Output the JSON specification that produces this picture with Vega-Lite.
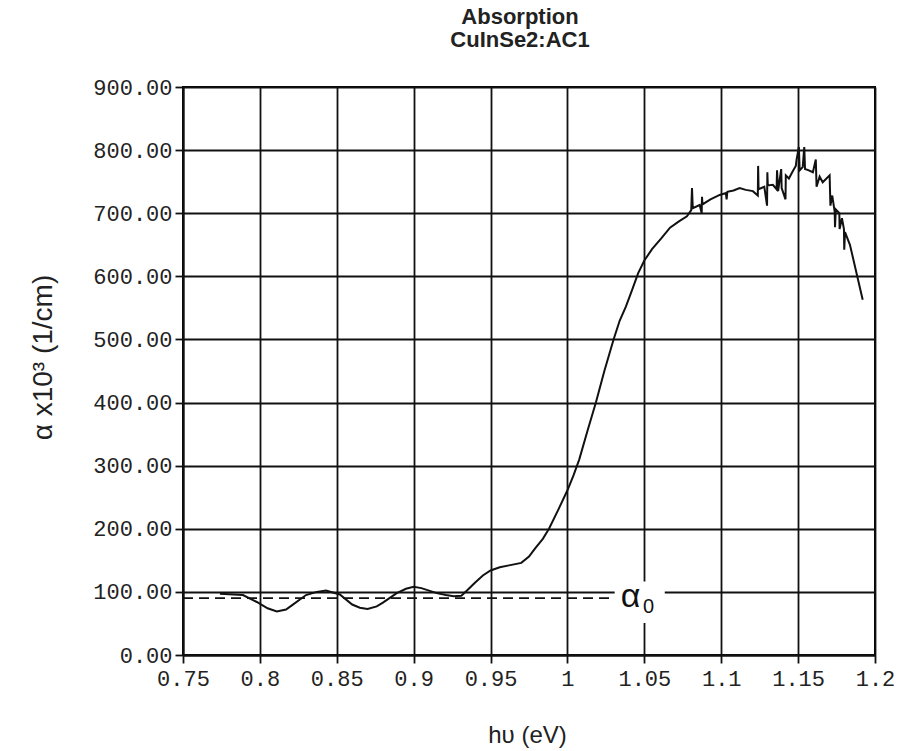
{
  "$schema": "https://vega.github.io/schema/vega-lite/v6.json",
  "width": 692,
  "height": 568,
  "autosize": "none",
  "padding": {"left": 183, "top": 87, "right": 25, "bottom": 96},
  "background": "white",
  "title": {
    "text": ["Absorption", "CuInSe2:AC1"],
    "font": "Liberation Sans",
    "fontSize": 22,
    "fontWeight": "bold",
    "lineHeight": 23,
    "color": "#222",
    "anchor": "middle",
    "dx": -9,
    "offset": 24
  },
  "config": {
    "view": {"stroke": "black", "strokeWidth": 2},
    "axis": {
      "gridColor": "#111",
      "gridWidth": 1.8,
      "gridOpacity": 1,
      "domainColor": "#111",
      "domainWidth": 2,
      "tickColor": "#111",
      "tickWidth": 1.8,
      "tickSize": 8,
      "labelFont": "Liberation Mono",
      "labelFontSize": 22,
      "labelColor": "#222",
      "titleFont": "Liberation Sans",
      "titleFontWeight": "normal",
      "titleColor": "#222"
    }
  },
  "layer": [
    {
      "data": {"values": [
        {"x": 0.774, "y": 97}, {"x": 0.789, "y": 95}, {"x": 0.798, "y": 84}, {"x": 0.805, "y": 74},
        {"x": 0.811, "y": 69}, {"x": 0.817, "y": 72}, {"x": 0.821, "y": 79}, {"x": 0.830, "y": 95},
        {"x": 0.837, "y": 100}, {"x": 0.843, "y": 102}, {"x": 0.852, "y": 96}, {"x": 0.860, "y": 80},
        {"x": 0.865, "y": 75}, {"x": 0.870, "y": 73}, {"x": 0.876, "y": 77}, {"x": 0.880, "y": 83},
        {"x": 0.889, "y": 98}, {"x": 0.895, "y": 105}, {"x": 0.900, "y": 108}, {"x": 0.905, "y": 106},
        {"x": 0.910, "y": 102}, {"x": 0.915, "y": 98}, {"x": 0.921, "y": 95}, {"x": 0.926, "y": 93},
        {"x": 0.931, "y": 94}, {"x": 0.935, "y": 103}, {"x": 0.940, "y": 115}, {"x": 0.945, "y": 126},
        {"x": 0.950, "y": 134}, {"x": 0.956, "y": 139}, {"x": 0.962, "y": 142}, {"x": 0.970, "y": 146},
        {"x": 0.975, "y": 156}, {"x": 0.979, "y": 169}, {"x": 0.984, "y": 184}, {"x": 0.988, "y": 200},
        {"x": 0.994, "y": 230}, {"x": 1.000, "y": 261}, {"x": 1.004, "y": 285}, {"x": 1.0077, "y": 310},
        {"x": 1.013, "y": 355}, {"x": 1.0185, "y": 400}, {"x": 1.024, "y": 450}, {"x": 1.030, "y": 500},
        {"x": 1.034, "y": 530}, {"x": 1.038, "y": 552}, {"x": 1.042, "y": 578}, {"x": 1.046, "y": 605},
        {"x": 1.050, "y": 625}, {"x": 1.055, "y": 643}, {"x": 1.061, "y": 660}, {"x": 1.0667, "y": 677},
        {"x": 1.0725, "y": 687}, {"x": 1.0777, "y": 695}, {"x": 1.0805, "y": 705}, {"x": 1.081, "y": 740},
        {"x": 1.0815, "y": 708}, {"x": 1.086, "y": 713}, {"x": 1.0873, "y": 700}, {"x": 1.0875, "y": 726},
        {"x": 1.0878, "y": 714}, {"x": 1.093, "y": 722}, {"x": 1.099, "y": 729}, {"x": 1.103, "y": 732},
        {"x": 1.1035, "y": 722}, {"x": 1.104, "y": 734}, {"x": 1.108, "y": 736}, {"x": 1.112, "y": 740},
        {"x": 1.116, "y": 737}, {"x": 1.1206, "y": 735}, {"x": 1.1238, "y": 728}, {"x": 1.124, "y": 775},
        {"x": 1.1243, "y": 738}, {"x": 1.128, "y": 742}, {"x": 1.1298, "y": 712}, {"x": 1.130, "y": 765},
        {"x": 1.1303, "y": 744}, {"x": 1.1336, "y": 745}, {"x": 1.136, "y": 738}, {"x": 1.1363, "y": 768},
        {"x": 1.137, "y": 735}, {"x": 1.139, "y": 770}, {"x": 1.1393, "y": 740}, {"x": 1.1418, "y": 722},
        {"x": 1.142, "y": 760}, {"x": 1.144, "y": 755}, {"x": 1.1466, "y": 767}, {"x": 1.1485, "y": 775},
        {"x": 1.149, "y": 785}, {"x": 1.1505, "y": 805}, {"x": 1.151, "y": 768}, {"x": 1.153, "y": 773},
        {"x": 1.154, "y": 805}, {"x": 1.1545, "y": 770}, {"x": 1.157, "y": 768}, {"x": 1.1596, "y": 765},
        {"x": 1.1615, "y": 785}, {"x": 1.162, "y": 742}, {"x": 1.164, "y": 758}, {"x": 1.166, "y": 749},
        {"x": 1.1705, "y": 760}, {"x": 1.171, "y": 712}, {"x": 1.1722, "y": 728}, {"x": 1.1738, "y": 702},
        {"x": 1.174, "y": 678}, {"x": 1.1745, "y": 706}, {"x": 1.1768, "y": 700}, {"x": 1.177, "y": 675},
        {"x": 1.1785, "y": 692}, {"x": 1.1798, "y": 675}, {"x": 1.180, "y": 642}, {"x": 1.1805, "y": 670},
        {"x": 1.1837, "y": 650}, {"x": 1.188, "y": 605}, {"x": 1.192, "y": 563}
      ]},
      "mark": {"type": "line", "color": "#111", "strokeWidth": 2, "interpolate": "linear"},
      "encoding": {
        "x": {
          "field": "x", "type": "quantitative",
          "scale": {"domain": [0.75, 1.2], "nice": false, "zero": false},
          "axis": {
            "values": [0.75, 0.8, 0.85, 0.9, 0.95, 1, 1.05, 1.1, 1.15, 1.2],
            "format": "~g",
            "labelPadding": 5,
            "labelFlush": false,
            "labelOverlap": false,
            "title": "hυ  (eV)",
            "titleFontSize": 24,
            "titleX": 344,
            "titleY": 80,
            "titleBaseline": "middle",
            "titleAlign": "center"
          }
        },
        "y": {
          "field": "y", "type": "quantitative",
          "scale": {"domain": [0, 900], "nice": false},
          "axis": {
            "values": [0, 100, 200, 300, 400, 500, 600, 700, 800, 900],
            "format": ".2f",
            "labelPadding": 3,
            "labelFlush": false,
            "labelOverlap": false,
            "title": "α x10³   (1/cm)",
            "titleFontSize": 28,
            "titleAngle": -90,
            "titleX": -140,
            "titleY": 270,
            "titleAlign": "center",
            "titleBaseline": "middle"
          }
        }
      }
    },
    {
      "data": {"values": [{"x": 0.75, "y": 90}, {"x": 1.033, "y": 90}]},
      "mark": {"type": "line", "color": "#111", "strokeWidth": 1.8, "strokeDash": [10, 6]},
      "encoding": {
        "x": {"field": "x", "type": "quantitative"},
        "y": {"field": "y", "type": "quantitative"}
      }
    },
    {
      "data": {"values": [{"x": 1.0415, "y": 90}, {"x": 1.0525, "y": 77}]},
      "mark": {"type": "point", "shape": "square", "filled": true, "fill": "white", "opacity": 1, "strokeWidth": 0, "size": 1100},
      "encoding": {
        "x": {"field": "x", "type": "quantitative"},
        "y": {"field": "y", "type": "quantitative"}
      }
    },
    {
      "data": {"values": [{"x": 1.041, "y": 92, "t": "α"}]},
      "mark": {"type": "text", "font": "Liberation Sans", "fontSize": 34, "color": "#111", "baseline": "middle", "align": "center"},
      "encoding": {
        "x": {"field": "x", "type": "quantitative"},
        "y": {"field": "y", "type": "quantitative"},
        "text": {"field": "t"}
      }
    },
    {
      "data": {"values": [{"x": 1.0528, "y": 76, "t": "0"}]},
      "mark": {"type": "text", "font": "Liberation Sans", "fontSize": 20, "color": "#111", "baseline": "middle", "align": "center"},
      "encoding": {
        "x": {"field": "x", "type": "quantitative"},
        "y": {"field": "y", "type": "quantitative"},
        "text": {"field": "t"}
      }
    }
  ]
}
